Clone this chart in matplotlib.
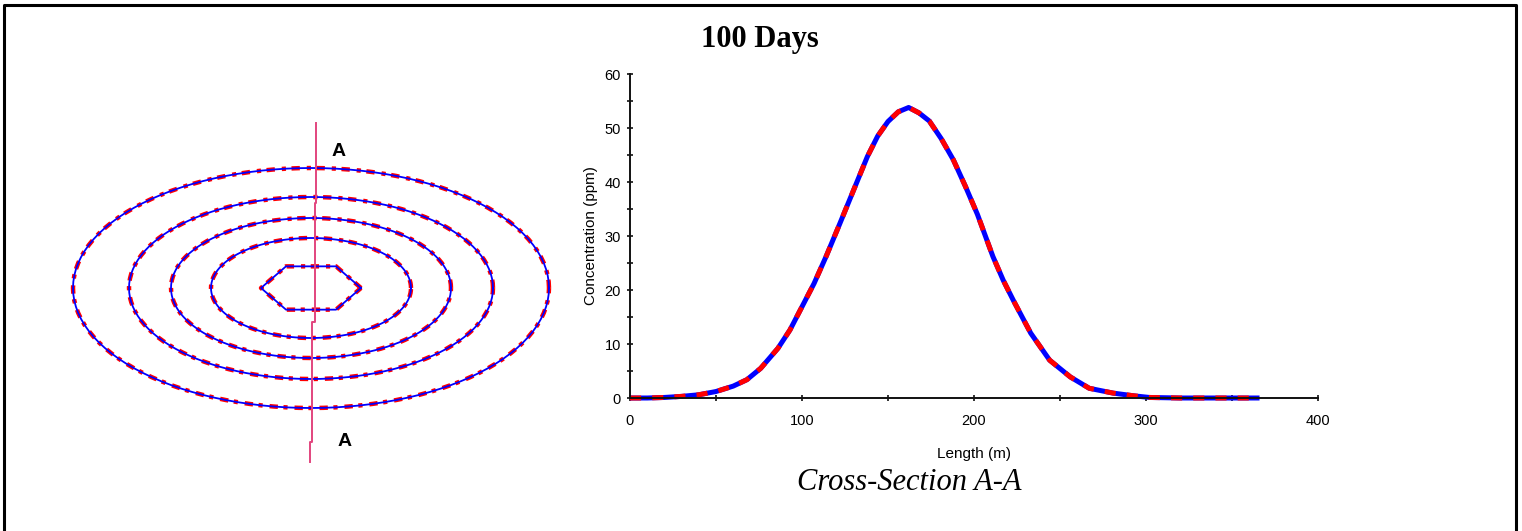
"""
100-day plume: plan-view contours (left) and concentration along section A-A (right).
"""

import numpy as np
import matplotlib
matplotlib.use("Agg")
import matplotlib.pyplot as plt
from matplotlib.lines import Line2D

plt.rcParams.update({
    "font.family": ["Liberation Sans", "DejaVu Sans"],
    "lines.scale_dashes": False,
})

# plan-view contours (half-widths / half-heights, map units), innermost first
CONTOUR_HALF_W = [50, 100, 140, 182, 238]
CONTOUR_HALF_H = [25, 50, 70, 91, 120]
CONTOUR_VERTICES = [6, 120, 120, 120, 120]

# section line A-A across the plume
SECTION_X = [5, 5, 4, 4, 1, 1, -1, -1]
SECTION_Y = [165, 85, 85, -34, -34, -154, -154, -174]
SECTION_LABEL_X = [28, 34]
SECTION_LABEL_Y = [137, -154]

# concentration along A-A
LENGTH_M = [0, 10, 20, 30, 40, 50, 60, 68, 76, 86, 93, 100, 107, 114, 122,
            130, 138, 144, 150, 156, 162, 168, 174, 181, 188, 195, 202, 211,
            217, 223, 233, 244, 256, 267, 281, 293, 302, 320, 366]
CONC_PPM = [0, 0, 0.1, 0.3, 0.6, 1.2, 2.2, 3.4, 5.5, 9.2, 12.6, 16.9, 21.2,
            26.2, 32.3, 38.5, 44.7, 48.5, 51.2, 53.0, 53.8, 52.8, 51.3, 48.0,
            44.1, 39.2, 34.0, 26.2, 21.8, 18.0, 12.0, 7.0, 3.9, 1.8, 0.9, 0.4,
            0.1, 0, 0]

RED = "#ff0000"
BLUE = "#0000ff"

fig = plt.figure(figsize=(15.22, 5.31), dpi=100)
W, H = 1522, 531

# ---- plan view ----
axm = fig.add_axes([40 / W, 1 - 480 / H, 540 / W, 380 / H])
axm.set_xlim(-271, 269)
axm.set_ylim(-192, 188)
axm.axis("off")

for hw, hh, nv in zip(CONTOUR_HALF_W, CONTOUR_HALF_H, CONTOUR_VERTICES):
    t = np.linspace(0, 2 * np.pi, nv + 1)
    x = hw * np.cos(t)
    y = hh * np.sin(t)
    axm.plot(x, y, color=RED, lw=3.2, dashes=(6, 4, 3, 5),
             dash_capstyle="butt")
    axm.plot(x, y, color=BLUE, lw=1.3)

axm.plot(SECTION_X, SECTION_Y, color="#e2457e", lw=1.4)
for lx, ly in zip(SECTION_LABEL_X, SECTION_LABEL_Y):
    axm.text(lx, ly, "A", ha="center", va="center", fontsize=14,
             fontweight="bold", color="black")

# ---- cross-section ----
ax = fig.add_axes([630 / W, 1 - 398 / H, 688 / W, 324 / H])
ax.plot(LENGTH_M, CONC_PPM, color=BLUE, lw=3.6, clip_on=False,
        solid_capstyle="butt")
ax.plot(LENGTH_M, CONC_PPM, color=RED, lw=3.6, dashes=(8, 8), clip_on=False,
        dash_capstyle="butt")
ax.set_xlim(0, 400)
ax.set_ylim(0, 60)
ax.set_xticks(np.arange(0, 401, 100))
ax.set_xticks(np.arange(50, 400, 100), minor=True)
ax.set_yticks(np.arange(0, 61, 10))
ax.set_yticks(np.arange(5, 60, 10), minor=True)
for side in ("top", "right"):
    ax.spines[side].set_visible(False)
for side in ("left", "bottom"):
    ax.spines[side].set_linewidth(1.4)
    ax.spines[side].set_color("#111111")
ax.tick_params(which="both", direction="inout", length=5, width=1.2,
               color="#111111", labelsize=10.5)
ax.tick_params(axis="x", which="major", pad=9)
ax.tick_params(axis="y", which="major", pad=4)
ax.set_xlabel("Length (m)", fontsize=11, labelpad=14)
ax.set_ylabel("Concentration (ppm)", fontsize=11, labelpad=5)

# ---- titles and frame ----
fig.text(760 / W, 1 - 47 / H, "100 Days", ha="center", va="baseline",
         fontsize=22, fontweight="bold", family=["Liberation Serif", "DejaVu Serif"])
fig.text(909 / W, 1 - 490 / H, "Cross-Section A-A", ha="center", va="baseline",
         fontsize=22, style="italic", family=["Liberation Serif", "DejaVu Serif"])

bx = [3.5 / W, 3.5 / W, 1515.5 / W, 1515.5 / W]
by = [-0.05, 1 - 5 / H, 1 - 5 / H, -0.05]
fig.add_artist(Line2D(bx, by, transform=fig.transFigure, color="black", lw=2.2))

fig.savefig("out.png", dpi=100)
